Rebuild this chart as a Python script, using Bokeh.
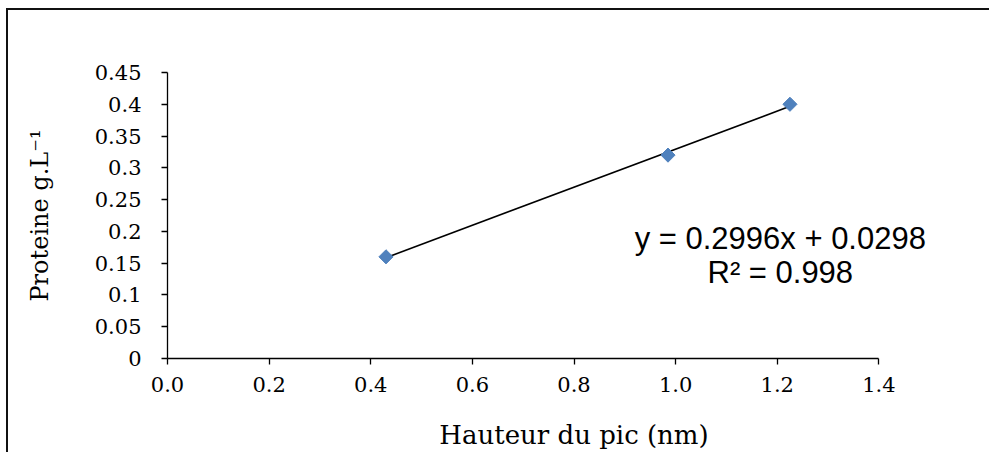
from bokeh.plotting import figure
from bokeh.models import FixedTicker, Label
from bokeh.embed import file_html
from bokeh.resources import INLINE
import numpy as np

# data
hauteur = [0.43, 0.985, 1.225]
proteine = [0.16, 0.32, 0.40]
slope = 0.2996
intercept = 0.0298
eq_text = "y = 0.2996x + 0.0298"
r2_text = "R\u00b2 = 0.998"

x_ticks = [0.0, 0.2, 0.4, 0.6, 0.8, 1.0, 1.2, 1.4]
x_tick_labels = ["0.0", "0.2", "0.4", "0.6", "0.8", "1.0", "1.2", "1.4"]
y_ticks = [0, 0.05, 0.1, 0.15, 0.2, 0.25, 0.3, 0.35, 0.4, 0.45]
y_tick_labels = ["0", "0.05", "0.1", "0.15", "0.2", "0.25", "0.3", "0.35", "0.4", "0.45"]

x_title = "Hauteur du pic (nm)"
y_title = "Proteine g.L\u207b\u00b9"

SERIF = "DejaVu Serif"

p = figure(width=989, height=452, x_range=(0, 1.6), y_range=(0, 0.45),
           output_backend="svg", toolbar_location=None,
           min_border_left=167, min_border_right=9,
           min_border_top=72, min_border_bottom=92)
# chart-area border (left and top edges visible, as in the cropped original)
p.styles = {
    "background-color": "white",
    "background-image": "linear-gradient(#111,#111), linear-gradient(#111,#111)",
    "background-size": "2px 100%, 100% 2px",
    "background-position": "6px 8px, 6px 8px",
    "background-repeat": "no-repeat",
}

p.outline_line_color = None
p.xgrid.visible = False
p.ygrid.visible = False
p.background_fill_color = None
p.border_fill_color = None

for ax in (p.xaxis[0], p.yaxis[0]):
    ax.axis_line_color = "black"
    ax.axis_line_width = 1.3
    ax.major_tick_line_color = "black"
    ax.major_tick_line_width = 1.3
    ax.major_tick_in = 0
    ax.major_tick_out = 6
    ax.minor_tick_line_color = None
    ax.major_label_text_font = SERIF
    ax.major_label_text_font_size = "21px"
    ax.major_label_text_color = "black"
    ax.axis_label_text_font = SERIF
    ax.axis_label_text_font_style = "normal"
    ax.axis_label_text_color = "black"

p.xaxis.axis_label_text_font_size = "26px"
p.yaxis.axis_label_text_font_size = "24px"
p.xaxis.bounds = (0, 1.4)
p.xaxis.ticker = FixedTicker(ticks=x_ticks)
p.xaxis.major_label_overrides = {t: l for t, l in zip(x_ticks, x_tick_labels)}
p.yaxis.ticker = FixedTicker(ticks=y_ticks)
p.yaxis.major_label_overrides = {t: l for t, l in zip(y_ticks, y_tick_labels)}
p.xaxis.axis_label = x_title
p.yaxis.axis_label = y_title
p.xaxis.major_label_standoff = 12
p.yaxis.major_label_standoff = 20
p.xaxis.axis_label_standoff = 25
p.yaxis.axis_label_standoff = 38

# trendline
xs = np.array([min(hauteur), max(hauteur)])
p.line(xs, slope * xs + intercept, line_color="black", line_width=1.6)

# points
p.scatter(hauteur, proteine, marker="square", size=10, angle=np.pi / 4,
          fill_color="#4F81BD", line_color="#4F81BD")

p.add_layout(Label(x=1.206, y=0.1886, text=eq_text, text_align="center",
                   text_baseline="alphabetic", text_font="Liberation Sans",
                   text_font_size="31px", text_color="black"))
p.add_layout(Label(x=1.206, y=0.1358, text=r2_text, text_align="center",
                   text_baseline="alphabetic", text_font="Liberation Sans",
                   text_font_size="31px", text_color="black"))

open("out.html", "w").write(file_html(p, INLINE))
